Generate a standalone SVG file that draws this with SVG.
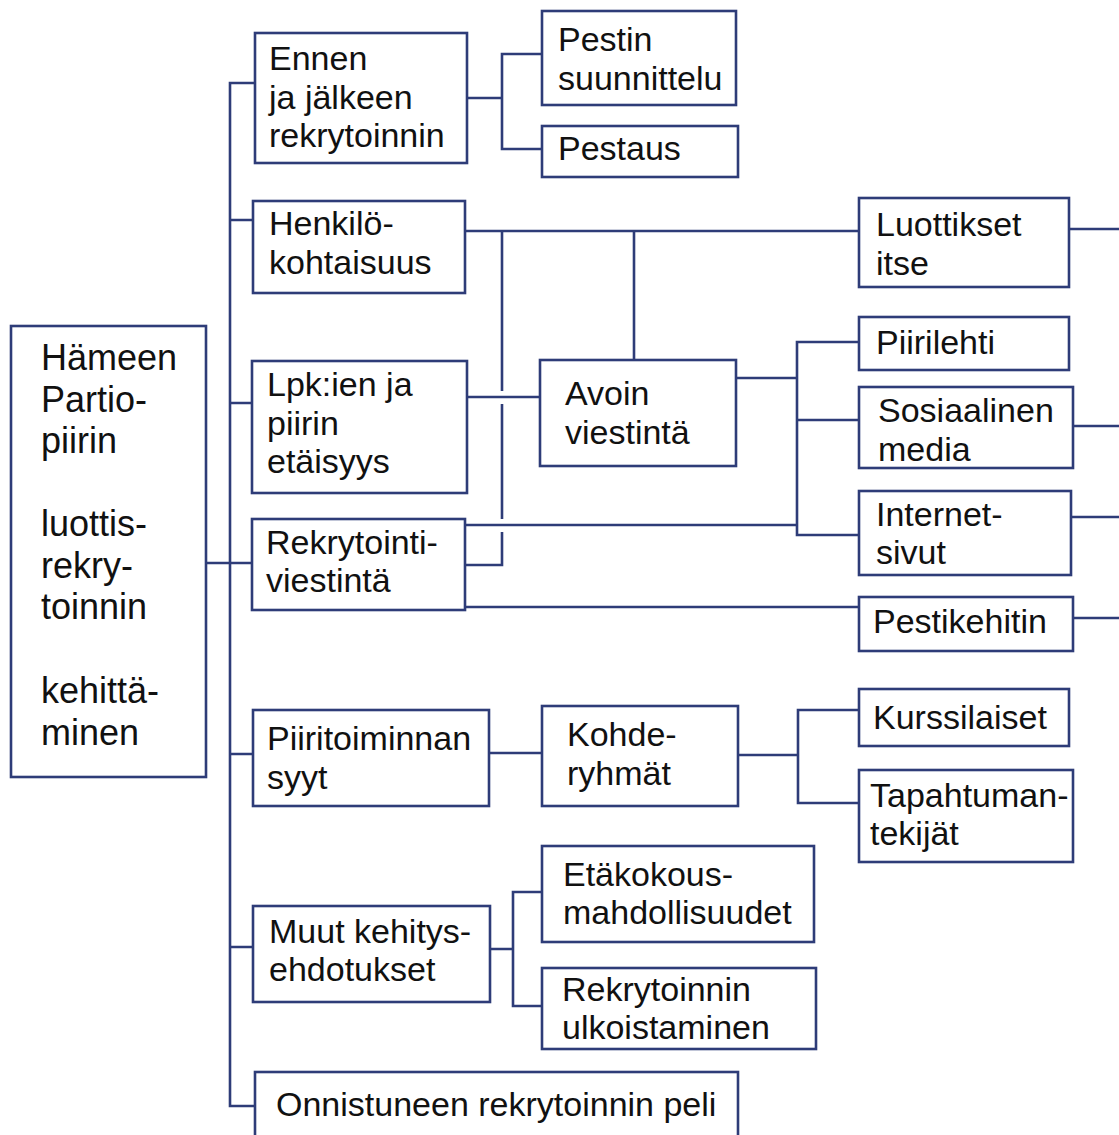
<svg xmlns="http://www.w3.org/2000/svg" width="1119" height="1135" viewBox="0 0 1119 1135">
<style>
.box{fill:#fff;stroke:#2e3c78;stroke-width:2.6}
.ln{fill:none;stroke:#2e3c78;stroke-width:2.6}
text{font-family:"Liberation Sans",Arial,sans-serif;font-size:34px;fill:#111}
.root{font-size:36px}
</style>
<rect width="1119" height="1135" fill="#fff"/>
<g id="connectors">
<path class="ln" d="M206 563H253"/>
<path class="ln" d="M255 83H230V1106H255"/>
<path class="ln" d="M230 220H253M230 403H252M230 754H253M230 947H253"/>
<path class="ln" d="M467 98H502M542 54H502V149H542"/>
<path class="ln" d="M465 231H859"/>
<path class="ln" d="M634 231V360"/>
<path class="ln" d="M502 231V391M502 404V519M502 532V565H465"/>
<path class="ln" d="M467 397H540"/>
<path class="ln" d="M465 525H797"/>
<path class="ln" d="M736 378H797M859 342H797V535H859M797 420H859"/>
<path class="ln" d="M465 607H859"/>
<path class="ln" d="M1069 229H1119M1073 426H1119M1071 517H1119M1073 618H1119"/>
<path class="ln" d="M489 753H542"/>
<path class="ln" d="M738 755H798M859 710H798V803H859"/>
<path class="ln" d="M490 949H513M542 892H513V1006H542"/>
</g>
<g id="root"><rect class="box" x="11" y="326" width="195" height="451"/>
<text class="root" x="41" y="370">Hämeen</text><text class="root" x="41" y="412">Partio-</text><text class="root" x="41" y="453">piirin</text>
<text class="root" x="41" y="536">luottis-</text><text class="root" x="41" y="578">rekry-</text><text class="root" x="41" y="619">toinnin</text>
<text class="root" x="41" y="703">kehittä-</text><text class="root" x="41" y="745">minen</text></g>
<g id="ennen"><rect class="box" x="255" y="33" width="212" height="130"/>
<text x="269" y="70">Ennen</text><text x="269" y="109">ja jälkeen</text><text x="269" y="147">rekrytoinnin</text></g>
<g id="pestin"><rect class="box" x="542" y="11" width="194" height="94"/>
<text x="558" y="51">Pestin</text><text x="558" y="90">suunnittelu</text></g>
<g id="pestaus"><rect class="box" x="542" y="126" width="196" height="51"/>
<text x="558" y="160">Pestaus</text></g>
<g id="henkilo"><rect class="box" x="253" y="201" width="212" height="92"/>
<text x="269" y="235">Henkilö-</text><text x="269" y="274">kohtaisuus</text></g>
<g id="luottikset"><rect class="box" x="859" y="198" width="210" height="89"/>
<text x="876" y="236">Luottikset</text><text x="876" y="275">itse</text></g>
<g id="lpk"><rect class="box" x="252" y="361" width="215" height="132"/>
<text x="267" y="396">Lpk:ien ja</text><text x="267" y="435">piirin</text><text x="267" y="473">etäisyys</text></g>
<g id="avoin"><rect class="box" x="540" y="360" width="196" height="106"/>
<text x="565" y="405">Avoin</text><text x="565" y="444">viestintä</text></g>
<g id="piirilehti"><rect class="box" x="859" y="317" width="210" height="53"/>
<text x="876" y="354">Piirilehti</text></g>
<g id="some"><rect class="box" x="859" y="387" width="214" height="81"/>
<text x="878" y="422">Sosiaalinen</text><text x="878" y="461">media</text></g>
<g id="internet"><rect class="box" x="859" y="491" width="212" height="84"/>
<text x="876" y="526">Internet-</text><text x="876" y="564">sivut</text></g>
<g id="rekrytointiviestinta"><rect class="box" x="252" y="519" width="213" height="91"/>
<text x="266" y="554">Rekrytointi-</text><text x="266" y="592">viestintä</text></g>
<g id="pestikehitin"><rect class="box" x="859" y="597" width="214" height="54"/>
<text x="873" y="633">Pestikehitin</text></g>
<g id="piiritoiminnan"><rect class="box" x="253" y="710" width="236" height="96"/>
<text x="267" y="750">Piiritoiminnan</text><text x="267" y="789">syyt</text></g>
<g id="kohderyhmat"><rect class="box" x="542" y="706" width="196" height="100"/>
<text x="567" y="746">Kohde-</text><text x="567" y="785">ryhmät</text></g>
<g id="kurssilaiset"><rect class="box" x="859" y="689" width="210" height="57"/>
<text x="873" y="729">Kurssilaiset</text></g>
<g id="tapahtuman"><rect class="box" x="859" y="770" width="214" height="92"/>
<text x="870" y="807">Tapahtuman-</text><text x="870" y="845">tekijät</text></g>
<g id="muut"><rect class="box" x="253" y="906" width="237" height="96"/>
<text x="269" y="943">Muut kehitys-</text><text x="269" y="981">ehdotukset</text></g>
<g id="etakokous"><rect class="box" x="542" y="846" width="272" height="96"/>
<text x="563" y="886">Etäkokous-</text><text x="563" y="924">mahdollisuudet</text></g>
<g id="ulkoistaminen"><rect class="box" x="542" y="968" width="274" height="81"/>
<text x="562" y="1001">Rekrytoinnin</text><text x="562" y="1039">ulkoistaminen</text></g>
<g id="peli"><rect class="box" x="255" y="1072" width="483" height="80"/>
<text x="276" y="1116">Onnistuneen rekrytoinnin peli</text></g>
</svg>
